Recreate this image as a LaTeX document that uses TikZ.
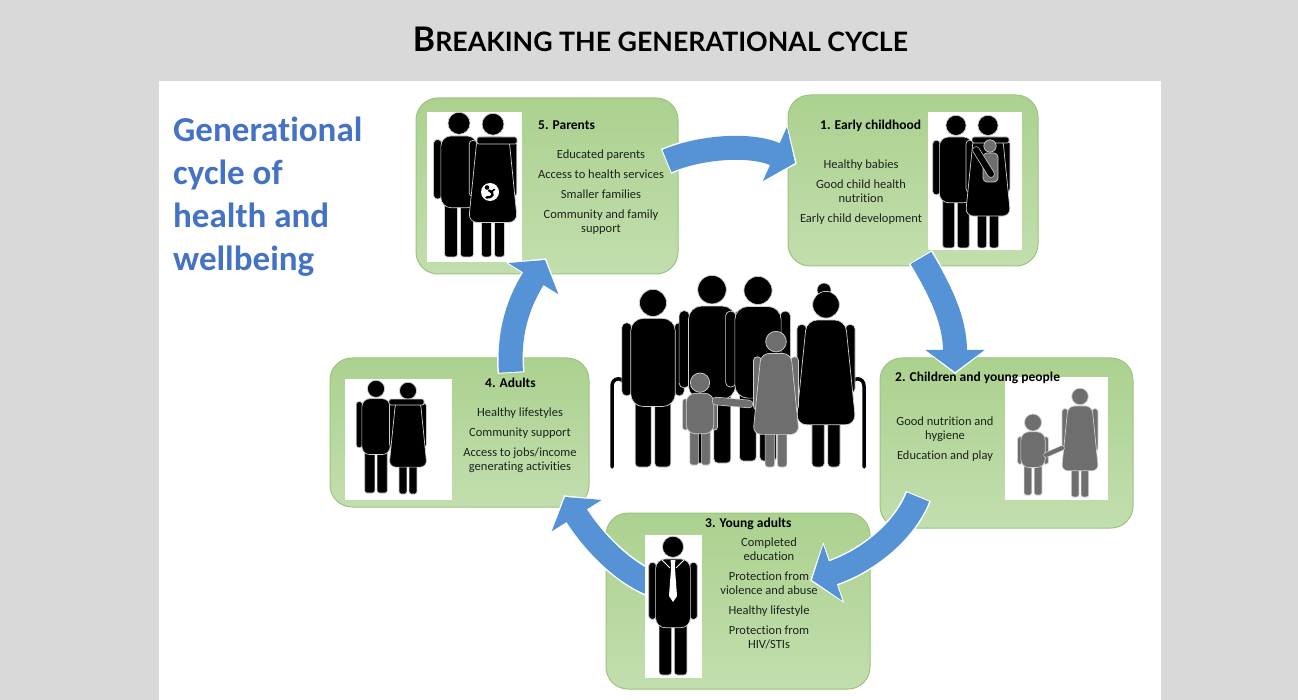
\documentclass[tikz,border=0pt]{standalone}
\usepackage{fontspec}
\usepackage{graphicx}
\setmainfont{Carlito}[Ligatures=NoCommon]
\newfontfamily\titlefont{Lato}
\usetikzlibrary{arrows.meta}

\definecolor{bgray}{HTML}{D9D9D9}
\definecolor{cycblue}{HTML}{4472C4}
\definecolor{arrblue}{HTML}{5592D6}
\definecolor{boxgreenA}{HTML}{ABD18F}
\definecolor{boxgreenB}{HTML}{C2DEAE}
\definecolor{boxedge}{HTML}{9CC481}
\definecolor{figgrey}{HTML}{6E6E6E}
\definecolor{figline}{HTML}{D0D0D0}
\definecolor{txt}{HTML}{1E221E}

\tikzset{
  stagebox/.style={rounded corners=22pt, top color=boxgreenA, bottom color=boxgreenB,
    draw=boxedge, line width=1pt, inner sep=0pt, outer sep=0pt},
  picframe/.style={fill=white},
  stagehead/.style={font=\bfseries\fontsize{13.5}{16}\selectfont, text=black, inner sep=0pt, anchor=base west},
  stagetext/.style={font=\fontsize{12.5}{14}\selectfont, text=txt, align=center, inner sep=0pt, anchor=north},
  cyclearrow/.style={line width=24pt, draw=arrblue, -{Triangle[length=22pt, width=58pt, fill=arrblue]}},
  cycleglow/.style={line width=27pt, draw=white, -{Triangle[length=25pt, width=63pt]},
    shorten >=-2pt, shorten <=-1pt},
  figpart/.style={fill=#1, draw=figline, line width=0.7pt},
  limb/.style={draw=figline, double=#1, double distance=6pt, line width=0.7pt, line cap=round},
  cane/.style={draw=black, line width=3.5pt, line cap=round},
}

% pictogram people: centre x, top y, scale (height/100), colour
\newcommand{\manfig}[4]{%
  \begin{scope}[shift={(#1,#2)}, scale=#3]
    \path[figpart=#4, rounded corners=2.5*#3] (-17.5,19) rectangle (-12,60);
    \path[figpart=#4, rounded corners=2.5*#3] (12,19) rectangle (17.5,60);
    \path[figpart=#4, rounded corners=2*#3] (-10,58) rectangle (-1,100);
    \path[figpart=#4, rounded corners=2*#3] (1,58) rectangle (10,100);
    \path[figpart=#4, rounded corners=7*#3] (-12.5,16.5) rectangle (12.5,66);
    \path[figpart=#4] (0,7.8) circle[radius=7.6];
  \end{scope}}
\newcommand{\womanfig}[4]{%
  \begin{scope}[shift={(#1,#2)}, scale=#3]
    \path[figpart=#4, rounded corners=2.5*#3] (-16.5,19) rectangle (-11,58);
    \path[figpart=#4, rounded corners=2.5*#3] (11,19) rectangle (16.5,58);
    \path[figpart=#4, rounded corners=2*#3] (-8,70) rectangle (-1,100);
    \path[figpart=#4, rounded corners=2*#3] (1,70) rectangle (8,100);
    \path[figpart=#4, rounded corners=6*#3] (-11,16.5) -- (11,16.5) -- (17,76) -- (-17,76) -- cycle;
    \path[figpart=#4] (0,7.8) circle[radius=7.6];
  \end{scope}}
\newcommand{\childfig}[4]{%
  \begin{scope}[shift={(#1,#2)}, scale=#3]
    \path[figpart=#4, rounded corners=3*#3] (-19,28) rectangle (-13,62);
    \path[figpart=#4, rounded corners=3*#3] (13,28) rectangle (19,62);
    \path[figpart=#4, rounded corners=2*#3] (-11,58) rectangle (-1.5,100);
    \path[figpart=#4, rounded corners=2*#3] (1.5,58) rectangle (11,100);
    \path[figpart=#4, rounded corners=10*#3] (-15,22) rectangle (15,66);
    \path[figpart=#4] (0,10.5) circle[radius=10.5];
  \end{scope}}

\begin{document}
\begin{tikzpicture}[x=1pt, y=-1pt]
  % page and white panel
  \useasboundingbox (0,0) rectangle (1298,700);
  \fill[bgray] (0,0) rectangle (1298,700);
  \fill[white] (159,81) rectangle (1161,700);

  \node[anchor=base, inner sep=0pt] (title) at (660.5,52)
    {\resizebox{495pt}{!}{\titlefont\bfseries\fontsize{26}{30}\selectfont B\fontsize{20.5}{24}\selectfont REAKING THE GENERATIONAL CYCLE}};

  \node[anchor=north west, inner sep=0pt, align=left, text=cycblue,
        font=\bfseries\fontsize{35}{43}\selectfont] (cycletitle) at (173,117)
    {Generational\\cycle of\\health and\\wellbeing};

  % stage boxes
  \node[stagebox, minimum width=262pt, minimum height=176pt] (box5) at (547,186) {};
  \node[stagebox, minimum width=250pt, minimum height=171pt] (box1) at (913,180.5) {};
  \node[stagebox, minimum width=253pt, minimum height=170pt] (box2) at (1006.5,443) {};
  \node[stagebox, minimum width=264pt, minimum height=176pt] (box3) at (738,601) {};
  \node[stagebox, minimum width=259pt, minimum height=149pt] (box4) at (459.5,432.5) {};

  % arrow end points
  \coordinate (a51s) at (667,161);  \coordinate (a51e) at (795,163);
  \coordinate (a12s) at (921,258);  \coordinate (a12e) at (955,372);
  \coordinate (a23s) at (918,497);  \coordinate (a23e) at (812,580);
  \coordinate (a34s) at (650,583);  \coordinate (a34e) at (565,497);
  \coordinate (a45s) at (511,372);  \coordinate (a45e) at (545,260);

  % cycle arrows: white rim first, blue body on top
  \draw[cycleglow] (a51s) .. controls (700,147) and (750,143) .. (a51e);
  \draw[cyclearrow] (a51s) .. controls (700,147) and (750,143) .. (a51e);
  \draw[cycleglow] (a12s) .. controls (940,290) and (955,320) .. (a12e);
  \draw[cyclearrow] (a12s) .. controls (940,290) and (955,320) .. (a12e);
  \draw[cycleglow] (a23s) .. controls (905,530) and (870,560) .. (a23e);
  \draw[cyclearrow] (a23s) .. controls (905,530) and (870,560) .. (a23e);
  \draw[cycleglow] (a34s) .. controls (620,570) and (592,540) .. (a34e);
  \draw[cyclearrow] (a34s) .. controls (620,570) and (592,540) .. (a34e);
  \draw[cycleglow] (a45s) .. controls (508,330) and (520,300) .. (a45e);
  \draw[cyclearrow] (a45s) .. controls (508,330) and (520,300) .. (a45e);

  % picture frames
  \fill[picframe] (427,112) rectangle (522,262);
  \fill[picframe] (928,112) rectangle (1022,250);
  \fill[picframe] (1005,377) rectangle (1108,500);
  \fill[picframe] (645,535) rectangle (702,678);
  \fill[picframe] (345,379) rectangle (452,500);

  % 5. parents: couple expecting a baby
  \manfig{459}{112}{1.45}{black}
  \womanfig{493}{113}{1.44}{black}
  \path[figpart=black, rounded corners=2pt] (477,137) rectangle (517,144);
  \fill[white] (490,192) circle[radius=9];
  \fill[black] (487,187.5) circle[radius=2.3];
  \draw[black, line width=2.4pt, line cap=round] (489,190.5) .. controls (495,193) and (493,198) .. (486.5,197.5);
  \draw[black, line width=1.6pt, line cap=round] (491,192) -- (494.5,189.5);

  % 1. early childhood: couple with a baby
  \manfig{956}{115}{1.33}{black}
  \womanfig{988}{115}{1.33}{black}
  \path[figpart=black, rounded corners=2pt] (972,137) rectangle (1009,143);
  \path[figpart=figgrey, rounded corners=4pt] (983,153) rectangle (998,182);
  \path[figpart=figgrey] (990,146) circle[radius=6.2];
  \draw[limb=black] (976,150) -- (991,174);

  % 2. children and young people
  \childfig{1033}{414}{0.81}{figgrey}
  \womanfig{1080}{388}{1.09}{figgrey}
  \draw[limb=figgrey, double distance=4pt] (1046,455) -- (1062,448);

  % 3. young adult in a suit
  \manfig{673}{536}{1.39}{black}
  \fill[white] (670.5,560) -- (675.5,560) -- (674.8,566) -- (677,596) -- (673,602) -- (669,596) -- (671.2,566) -- cycle;
  \draw[white, line width=0.8pt] (662,560) -- (670,568);
  \draw[white, line width=0.8pt] (684,560) -- (676,568);

  % 4. adults
  \manfig{376}{380}{1.13}{black}
  \womanfig{408}{382}{1.12}{black}
  \path[figpart=black, rounded corners=2pt] (389,399) rectangle (424,405);

  % three generations in the middle
  \draw[cane] (612,467) -- (612,386) .. controls (612,377) and (624,376) .. (625,386);
  \manfig{653}{289}{1.78}{black}
  \manfig{712}{275}{1.88}{black}
  \manfig{758}{276}{1.85}{black}
  \draw[cane] (864,467) -- (864,386) .. controls (864,377) and (852,376) .. (851,386);
  \path[figpart=black] (824,290) circle[radius=7];
  \womanfig{826}{291}{1.76}{black}
  \childfig{700}{373}{0.92}{figgrey}
  \womanfig{776}{331}{1.36}{figgrey}
  \draw[limb=figgrey, double distance=7pt] (716,401) -- (749,404);

  % stage headings
  \node[stagehead] (h5) at (538,129.5) {5. Parents};
  \node[stagehead] (h1) at (820,129.5) {1. Early childhood};
  \node[stagehead] (h2) at (895,381.5) {2. Children and young people};
  \node[stagehead] (h3) at (705,527.5) {3. Young adults};
  \node[stagehead] (h4) at (485,387.5) {4. Adults};

  % stage contents
  \node[stagetext] (t5) at (601,150) {Educated parents\\[6pt]Access to health services\\[6pt]Smaller families\\[6pt]Community and family\\support};
  \node[stagetext] (t1) at (861,160) {Healthy babies\\[6pt]Good child health\\nutrition\\[6pt]Early child development};
  \node[stagetext] (t2) at (945,417) {Good nutrition and\\hygiene\\[6pt]Education and play};
  \node[stagetext] (t3) at (769,538) {Completed\\education\\[6pt]Protection from\\violence and abuse\\[6pt]Healthy lifestyle\\[6pt]Protection from\\HIV/STIs};
  \node[stagetext] (t4) at (520,408) {Healthy lifestyles\\[6pt]Community support\\[6pt]Access to jobs/income\\generating activities};
\end{tikzpicture}
\end{document}
